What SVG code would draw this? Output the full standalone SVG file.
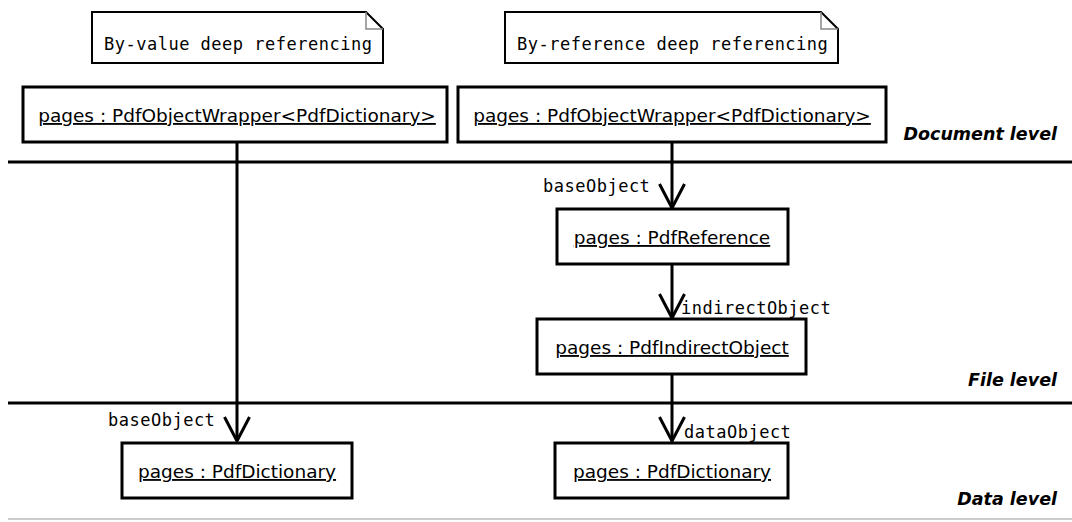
<svg xmlns="http://www.w3.org/2000/svg" width="1072" height="522" viewBox="0 0 1072 522">
  <style>
    .box { fill: #fff; stroke: #000; stroke-width: 3; }
    .note { fill: #fff; stroke: #000; stroke-width: 2; }
    .fold { fill: none; stroke: #888; stroke-width: 1.5; }
    .obj { font-family: "DejaVu Sans", sans-serif; font-size: 18.5px; fill: #000; text-anchor: middle; text-decoration: underline; }
    .mono { font-family: "DejaVu Sans Mono", monospace; font-size: 17px; letter-spacing: 0.5px; fill: #000; }
    .level { font-family: "DejaVu Sans", sans-serif; font-size: 17.5px; font-weight: bold; font-style: italic; fill: #000; text-anchor: end; }
    .sep { stroke: #000; stroke-width: 3; }
    .edge { stroke: #000; stroke-width: 3; fill: none; }
  </style>
  <defs>
    <!-- open V arrowhead, drawn pointing along +x so orient="auto" follows the line -->
    <marker id="open" viewBox="0 0 27 28" refX="25" refY="14" markerWidth="27" markerHeight="28" markerUnits="userSpaceOnUse" orient="auto">
      <path d="M1,1.5 L25,14 L1,26.5" fill="none" stroke="#000" stroke-width="3"/>
    </marker>
  </defs>

  <!-- level separators -->
  <g id="levels">
    <line class="sep" x1="8" y1="162" x2="1072" y2="162"/>
    <line class="sep" x1="8" y1="403" x2="1072" y2="403"/>
    <line x1="8" y1="519" x2="1072" y2="519" stroke="#ccc" stroke-width="2"/>
    <text class="level" x="1057" y="140">Document level</text>
    <text class="level" x="1057" y="386">File level</text>
    <text class="level" x="1057" y="505">Data level</text>
  </g>

  <!-- notes -->
  <g id="note-value">
    <path class="note" d="M92,12 H366 L383,29 V63 H92 Z"/>
    <path class="fold" d="M366,12 V29 H383"/>
    <text class="mono" x="104" y="50">By-value deep referencing</text>
  </g>
  <g id="note-reference">
    <path class="note" d="M505,12 H821 L838,29 V63 H505 Z"/>
    <path class="fold" d="M821,12 V29 H838"/>
    <text class="mono" x="517" y="50">By-reference deep referencing</text>
  </g>

  <!-- connectors -->
  <g id="connectors">
    <line class="edge" x1="237" y1="142" x2="237" y2="441" marker-end="url(#open)"/>
    <line class="edge" x1="672" y1="142" x2="672" y2="208" marker-end="url(#open)"/>
    <line class="edge" x1="672" y1="264" x2="672" y2="318" marker-end="url(#open)"/>
    <line class="edge" x1="672" y1="374" x2="672" y2="441" marker-end="url(#open)"/>
    <text class="mono" x="543" y="192">baseObject</text>
    <text class="mono" x="681" y="314">indirectObject</text>
    <text class="mono" x="108" y="426">baseObject</text>
    <text class="mono" x="684" y="438">dataObject</text>
  </g>

  <!-- object nodes -->
  <g id="wrapper-value">
    <rect class="box" x="23" y="87" width="424" height="55"/>
    <text class="obj" x="237" y="122">pages : PdfObjectWrapper&lt;PdfDictionary&gt;</text>
  </g>
  <g id="wrapper-reference">
    <rect class="box" x="458" y="87" width="428" height="55"/>
    <text class="obj" x="672" y="122">pages : PdfObjectWrapper&lt;PdfDictionary&gt;</text>
  </g>
  <g id="reference">
    <rect class="box" x="557" y="209" width="231" height="55"/>
    <text class="obj" x="672" y="244">pages : PdfReference</text>
  </g>
  <g id="indirect-object">
    <rect class="box" x="537" y="319" width="269" height="55"/>
    <text class="obj" x="672" y="354">pages : PdfIndirectObject</text>
  </g>
  <g id="dictionary-value">
    <rect class="box" x="122" y="443" width="230" height="55"/>
    <text class="obj" x="237" y="478">pages : PdfDictionary</text>
  </g>
  <g id="dictionary-reference">
    <rect class="box" x="555" y="443" width="233" height="55"/>
    <text class="obj" x="672" y="478">pages : PdfDictionary</text>
  </g>
</svg>
